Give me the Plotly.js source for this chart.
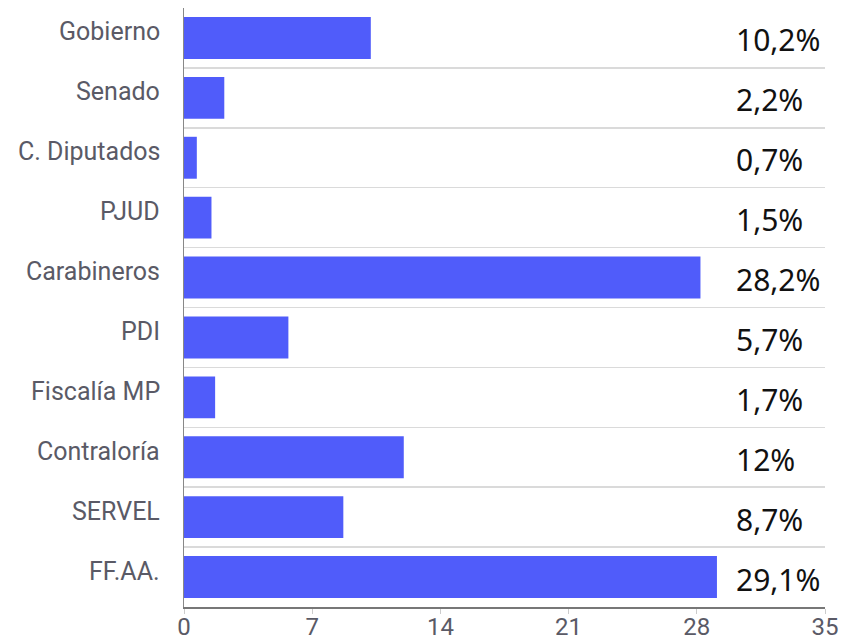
<!DOCTYPE html>
<html>
<head>
<meta charset="utf-8">
<script src="https://cdn.plot.ly/plotly-3.0.1.min.js"></script>
<style>html,body{margin:0;padding:0;background:#fff}#chart{width:841px;height:644px}</style>
</head>
<body>
<div id="chart"></div>
<script>
var categories = ["Gobierno", "Senado", "C. Diputados", "PJUD", "Carabineros", "PDI", "Fiscalía MP", "Contraloría", "SERVEL", "FF.AA."];
var values = [10.2, 2.2, 0.7, 1.5, 28.2, 5.7, 1.7, 12, 8.7, 29.1];
var xTicks = [0, 7, 14, 21, 28, 35];

var labels = values.map(function (v) { return String(v).replace('.', ',') + '%'; });

var trace = {
  type: 'bar',
  orientation: 'h',
  x: values,
  y: categories,
  marker: { color: '#505cfa' },
  hoverinfo: 'x+y'
};

var valueAnnotations = categories.map(function (c, i) {
  return {
    xref: 'paper', yref: 'y',
    x: 0.8627, y: c,
    xanchor: 'left', yanchor: 'middle',
    xshift: -3,
    yshift: -2,
    text: labels[i],
    showarrow: false,
    font: { family: 'Noto Sans, Open Sans, sans-serif', size: 30, color: '#111' }
  };
});

var categoryAnnotations = categories.map(function (c) {
  return {
    xref: 'paper', yref: 'y',
    x: 0, y: c,
    xanchor: 'right', yanchor: 'middle',
    xshift: -22,
    yshift: 6,
    text: c,
    showarrow: false,
    font: { family: 'Roboto, sans-serif', size: 25, color: '#5a5a66' }
  };
});

var layout = {
  width: 841, height: 644,
  margin: { l: 184, r: 16, t: 8, b: 37 },
  paper_bgcolor: '#fff', plot_bgcolor: '#fff',
  showlegend: false,
  bargap: 0.3,
  font: { family: 'Roboto, sans-serif' },
  xaxis: {
    range: [0, 35],
    tickvals: xTicks,
    ticktext: xTicks.map(String),
    showgrid: false,
    zeroline: false,
    showline: true,
    linecolor: '#777',
    linewidth: 1.5,
    ticks: 'outside',
    ticklen: 5,
    tickcolor: '#ccc',
    ticklabelstandoff: -7,
    tickfont: { family: 'Roboto, sans-serif', size: 24, color: '#5a5a66' }
  },
  yaxis: {
    autorange: 'reversed',
    type: 'category',
    tickson: 'boundaries',
    showgrid: true,
    gridcolor: '#dadada',
    gridwidth: 1.5,
    showline: true,
    linecolor: '#888',
    ticks: '',
    showticklabels: false,
    zeroline: false
  },
  annotations: valueAnnotations.concat(categoryAnnotations)
};

Plotly.newPlot('chart', [trace], layout, { displayModeBar: false, staticPlot: true });
</script>
</body>
</html>
